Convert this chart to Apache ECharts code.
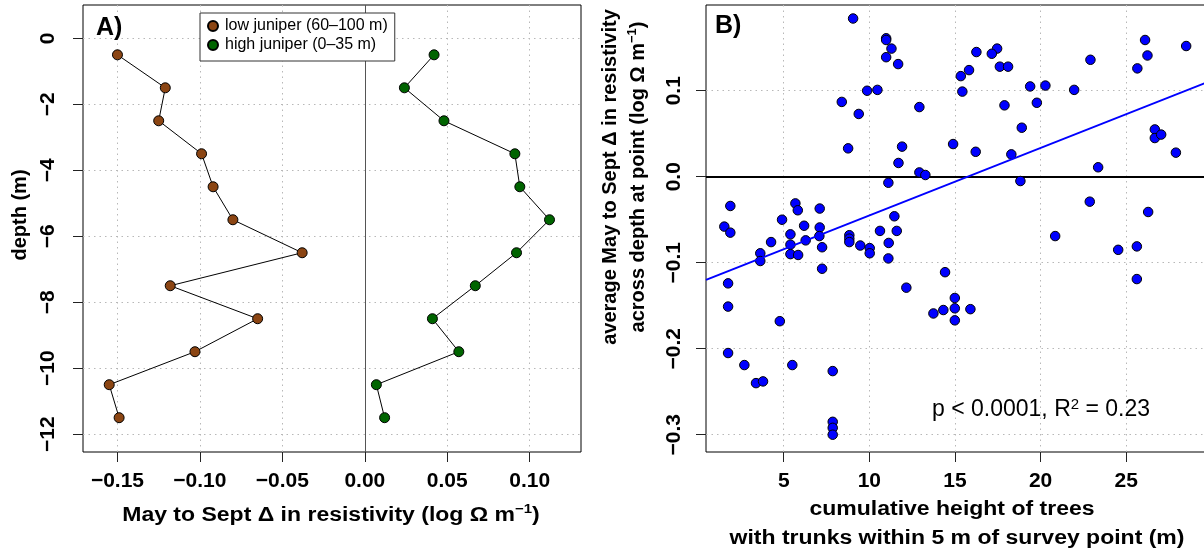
<!DOCTYPE html>
<html><head><meta charset="utf-8">
<script src="https://cdn.jsdelivr.net/npm/echarts@6/dist/echarts.min.js"></script>
<style>html,body{margin:0;padding:0;background:#fff}#c{width:1204px;height:555px}</style>
</head><body><div id="c"></div>
<script>
// ---------- Panel A data ----------
const depths = [-0.5, -1.5, -2.5, -3.5, -4.5, -5.5, -6.5, -7.5, -8.5, -9.5, -10.5, -11.5];
const lowJuniper = [-0.150, -0.121, -0.125, -0.099, -0.092, -0.080, -0.038, -0.118, -0.065, -0.103, -0.155, -0.149];
const highJuniper = [0.042, 0.024, 0.048, 0.091, 0.094, 0.112, 0.092, 0.067, 0.041, 0.057, 0.007, 0.012];
const aXTicks = [-0.15, -0.10, -0.05, 0, 0.05, 0.10];
const aYTicks = [0, -2, -4, -6, -8, -10, -12];
const lowName = 'low juniper (60\u2013100 m)';
const highName = 'high juniper (0\u201335 m)';

// ---------- Panel B data ----------
const treeHeight = [
  9.05, 10.98, 10.98, 11.29, 10.98, 11.68, 9.87, 10.47, 8.39, 9.38, 12.92, 8.76, 11.91, 11.70, 12.92, 13.27, 11.11,
  1.88, 5.68, 5.82, 7.10, 4.90, 1.53, 6.19, 7.10, 11.46, 10.62, 11.60, 1.88, 5.39, 4.26, 7.08, 6.28, 5.39, 7.24,
  3.63, 3.63, 5.39, 5.84, 7.24, 8.83, 8.83, 8.83, 9.47, 10.02, 10.02, 11.13, 11.11, 12.16, 13.74,
  1.75, 1.75, 4.77, 1.75, 2.70, 3.38, 3.79, 5.50, 7.86, 7.86, 7.86, 7.86,
  26.10, 28.50, 26.24, 25.65, 22.91, 16.25, 17.46, 17.15, 17.62, 18.10, 15.82, 15.34, 15.43, 19.39, 20.28, 21.96,
  17.89, 19.78, 18.90, 14.89, 16.21, 18.29, 26.67, 26.67, 27.04, 27.90, 23.36, 18.82, 22.87, 26.28,
  20.85, 24.53, 25.62, 25.62, 14.42, 14.32, 14.99, 14.99, 15.90, 14.99
];
const meanDelta = [
  0.184, 0.161, 0.159, 0.149, 0.139, 0.131, 0.100, 0.101, 0.087, 0.073, 0.081, 0.033, 0.035, 0.016, 0.005, 0.002, -0.007,
  -0.034, -0.031, -0.039, -0.037, -0.050, -0.058, -0.057, -0.059, -0.046, -0.063, -0.063, -0.065, -0.067, -0.076, -0.069, -0.074, -0.079, -0.082,
  -0.089, -0.098, -0.090, -0.091, -0.107, -0.068, -0.072, -0.076, -0.080, -0.083, -0.089, -0.077, -0.095, -0.129, -0.159,
  -0.124, -0.151, -0.168, -0.205, -0.219, -0.240, -0.238, -0.219, -0.226, -0.285, -0.292, -0.300,
  0.159, 0.152, 0.141, 0.126, 0.136, 0.145, 0.149, 0.143, 0.128, 0.128, 0.124, 0.117, 0.099, 0.105, 0.106, 0.101,
  0.083, 0.086, 0.057, 0.038, 0.029, 0.026, 0.055, 0.045, 0.049, 0.028, 0.011, -0.005, -0.029, -0.041,
  -0.069, -0.085, -0.081, -0.119, -0.111, -0.155, -0.141, -0.153, -0.154, -0.167
];
const bXTicks = [5, 10, 15, 20, 25];
const bYTicks = [0.1, 0, -0.1, -0.2, -0.3];
const fitIntercept = -0.1235;
const fitSlope = 0.00785;
const statText = 'p < 0.0001, R';

// ---------- axis extents ----------
const aXMin = -0.1709, aXMax = 0.1311, aYMin = -12.54, aYMax = 1.01;
const bXMin = 0.46, bXMax = 29.6, bYMin = -0.3201, bYMax = 0.1997;

const FONT = '"Liberation Sans", Arial, Helvetica, sans-serif';
const minus = s => s.replace('-', '\u2212');
const gridDot = { show: true, lineStyle: { color: '#b8b8b8', type: [1.5, 4], width: 1 } };
const noLine = { show: false, onZero: false };
const tickStyle = (vals) => ({ show: true, customValues: vals, inside: false, length: 10, lineStyle: { color: '#222', width: 1 } });
const labelStyle = (vals, fmt, extra) => Object.assign({
  show: true, customValues: vals, formatter: fmt, fontSize: 21, fontWeight: 'bold', fontFamily: FONT, color: '#000'
}, extra);

const chart = echarts.init(document.getElementById('c'), null, { renderer: 'canvas' });

const sup = { fontSize: 13, fontWeight: 'bold', fontFamily: FONT, lineHeight: 10, verticalAlign: 'top', fill: '#000' };
const mainB = { fontSize: 20, fontWeight: 'bold', fontFamily: FONT, lineHeight: 24, fill: '#000' };

function txt(x, y, text, rot, rich, align, sx) {
  return {
    type: 'text', x: x, y: y, rotation: rot || 0, scaleX: sx || 1, silent: true, z: 100,
    style: { text: text, rich: rich, align: align || 'center', verticalAlign: 'middle', fill: '#000' }
  };
}

chart.setOption({
  animation: false,
  backgroundColor: '#fff',
  textStyle: { fontFamily: FONT },
  grid: [
    { left: 83, top: 5, width: 498, height: 447, show: true, borderColor: '#000', borderWidth: 1, backgroundColor: 'transparent', outerBoundsMode: 'none', containLabel: false },
    { left: 706, top: 5, width: 499, height: 447, show: true, borderColor: '#000', borderWidth: 1, backgroundColor: 'transparent', outerBoundsMode: 'none', containLabel: false }
  ],
  xAxis: [
    { type: 'value', gridIndex: 0, position: 'bottom', min: aXMin, max: aXMax, axisLine: noLine,
      axisTick: tickStyle(aXTicks), splitLine: gridDot,
      axisLabel: labelStyle(aXTicks, v => minus(v.toFixed(2)), { margin: 19 }) },
    { type: 'value', gridIndex: 1, position: 'bottom', min: bXMin, max: bXMax, axisLine: noLine,
      axisTick: tickStyle(bXTicks), splitLine: gridDot,
      axisLabel: labelStyle(bXTicks, v => String(v), { margin: 19 }) }
  ],
  yAxis: [
    { type: 'value', gridIndex: 0, position: 'left', min: aYMin, max: aYMax, axisLine: noLine,
      axisTick: tickStyle(aYTicks), splitLine: gridDot,
      axisLabel: labelStyle(aYTicks, v => minus(String(Math.round(v))), { margin: 24, rotate: 90 }) },
    { type: 'value', gridIndex: 1, position: 'left', min: bYMin, max: bYMax, axisLine: noLine,
      axisTick: tickStyle(bYTicks), splitLine: gridDot,
      axisLabel: labelStyle(bYTicks, v => minus(v.toFixed(1)), { margin: 21, rotate: 90 }) }
  ],
  legend: {
    data: [lowName, highName], orient: 'vertical', left: 200, top: 13,
    icon: 'circle', itemWidth: 14, itemHeight: 10, itemGap: 3,
    padding: [5, 7, 8, 7], borderColor: '#333', borderWidth: 1, borderRadius: 0, backgroundColor: '#fff',
    textStyle: { fontSize: 16, fontFamily: FONT, color: '#000', lineHeight: 15 },
    selectedMode: false
  },
  series: [
    { name: lowName, type: 'line', xAxisIndex: 0, yAxisIndex: 0,
      data: depths.map((d, i) => [lowJuniper[i], d]),
      symbol: 'circle', symbolSize: 10, showSymbol: true,
      lineStyle: { color: '#000', width: 1 },
      itemStyle: { color: '#8B4513', borderColor: '#000', borderWidth: 1 },
      emphasis: { disabled: true },
      markLine: { silent: true, symbol: ['none', 'none'], z: 1, label: { show: false },
        lineStyle: { color: '#555', type: 'solid', width: 1 }, data: [{ xAxis: 0 }] } },
    { name: highName, type: 'line', xAxisIndex: 0, yAxisIndex: 0,
      data: depths.map((d, i) => [highJuniper[i], d]),
      symbol: 'circle', symbolSize: 10, showSymbol: true,
      lineStyle: { color: '#000', width: 1 },
      itemStyle: { color: '#006400', borderColor: '#000', borderWidth: 1 },
      emphasis: { disabled: true } },
    { name: 'zero', type: 'line', xAxisIndex: 1, yAxisIndex: 1, data: [],
      markLine: { silent: true, symbol: ['none', 'none'], z: 1, label: { show: false },
        lineStyle: { color: '#000', type: 'solid', width: 2 }, data: [{ yAxis: 0 }] } },
    { name: 'points', type: 'scatter', xAxisIndex: 1, yAxisIndex: 1,
      data: treeHeight.map((x, i) => [x, meanDelta[i]]),
      symbol: 'circle', symbolSize: 9.5,
      itemStyle: { color: '#0000FF', borderColor: '#000', borderWidth: 1, opacity: 1 },
      emphasis: { disabled: true } },
    { name: 'fit', type: 'line', xAxisIndex: 1, yAxisIndex: 1,
      data: [[bXMin, fitIntercept + fitSlope * bXMin], [bXMax, fitIntercept + fitSlope * bXMax]],
      symbol: 'none', lineStyle: { color: '#0000FF', width: 2 }, emphasis: { disabled: true } }
  ],
  graphic: [
    { type: 'text', x: 96, y: 28, silent: true, z: 100, style: { text: 'A)', font: 'bold 25px ' + FONT, align: 'left', verticalAlign: 'middle', fill: '#000' } },
    { type: 'text', x: 715, y: 26, silent: true, z: 100, style: { text: 'B)', font: 'bold 25px ' + FONT, align: 'left', verticalAlign: 'middle', fill: '#000' } },
    txt(331, 515, '{m|May to Sept \u0394 in resistivity (log \u03A9 m}{s|\u22121}{m|)}', 0, { m: mainB, s: sup }, 'center', 1.15),
    txt(20, 215, '{m|depth (m)}', Math.PI / 2, { m: mainB }),
    txt(952, 509, '{m|cumulative height of trees}', 0, { m: mainB }, 'center', 1.15),
    txt(957, 538, '{m|with trunks within 5 m of survey point (m)}', 0, { m: mainB }, 'center', 1.15),
    txt(610, 177, '{m|average May to Sept \u0394 in resistivity}', Math.PI / 2, { m: mainB }),
    txt(638, 177, '{m|across depth at point (log \u03A9 m}{s|\u22121}{m|)}', Math.PI / 2, { m: mainB, s: sup }),
    txt(932, 410, '{r|' + statText + '}{t|2}{r| = 0.23}', 0, {
      r: { fontSize: 23, fontFamily: FONT, lineHeight: 26, fill: '#000' },
      t: { fontSize: 15, fontFamily: FONT, lineHeight: 11, verticalAlign: 'top', fill: '#000' }
    }, 'left')
  ]
});
</script></body></html>
